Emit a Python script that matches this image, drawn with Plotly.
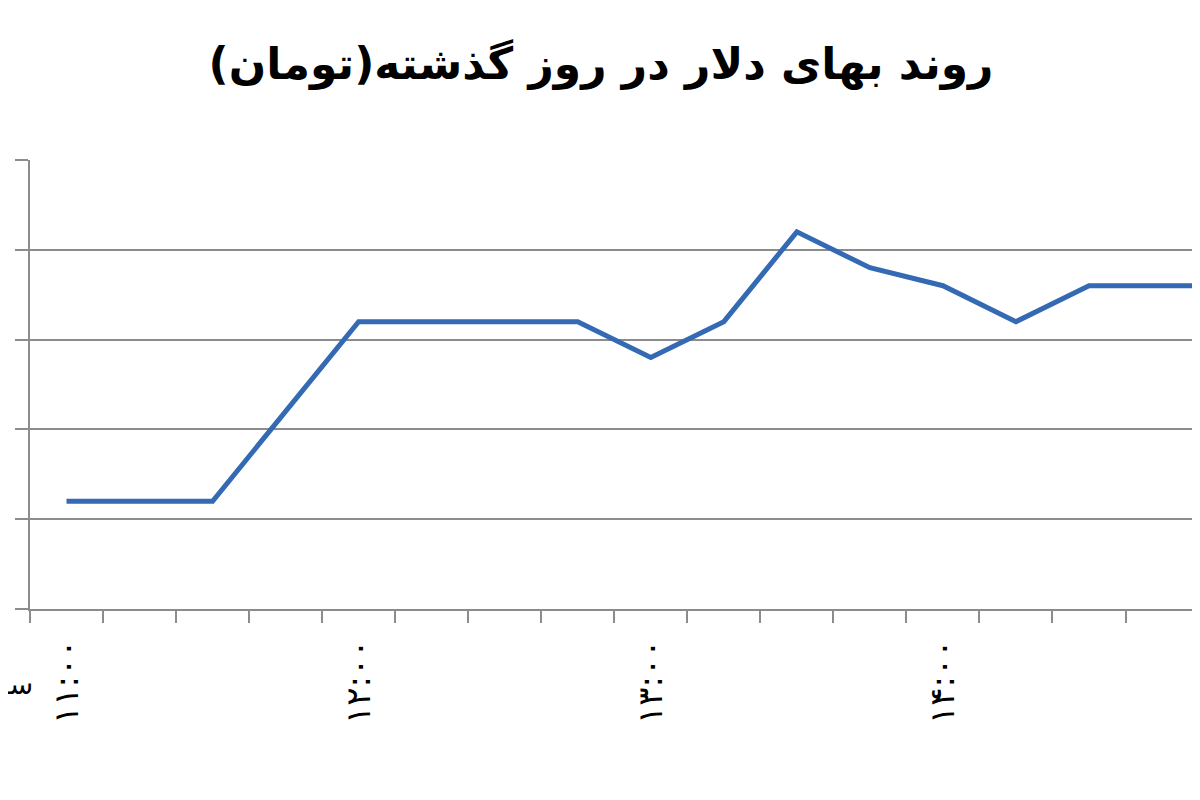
import plotly.graph_objects as go

# ساعت‌ها (هر ۱۵ دقیقه) و قیمت دلار به تومان
times = ["۱۱:۰۰", "۱۱:۱۵", "۱۱:۳۰", "۱۱:۴۵",
         "۱۲:۰۰", "۱۲:۱۵", "۱۲:۳۰", "۱۲:۴۵",
         "۱۳:۰۰", "۱۳:۱۵", "۱۳:۳۰", "۱۳:۴۵",
         "۱۴:۰۰", "۱۴:۱۵", "۱۴:۳۰", "۱۴:۴۵",
         "۱۵:۰۰"]
prices = [3760, 3760, 3760, 3810,
          3860, 3860, 3860, 3860,
          3840, 3860, 3910, 3890,
          3880, 3860, 3880, 3880,
          3880]

title_text = "روند بهای دلار در روز گذشته(تومان)"
axis_word = "ساعت"

fig = go.Figure()

fig.add_trace(go.Scatter(
    x=times, y=prices,
    mode="lines",
    line=dict(color="#3469b3", width=5),
    showlegend=False,
))

# la page html ajoute ~8px de marge au body : on compense
fig.update_layout(
    width=1200, height=800,
    paper_bgcolor="white",
    plot_bgcolor="white",
    margin=dict(l=22, r=8, t=152, b=199),
    font=dict(family="DejaVu Sans", color="black"),
    title=dict(
        text="<b>" + title_text + "</b>",
        x=593 / 1200, xanchor="center",
        y=1 - 56 / 800, yanchor="middle",
        font=dict(size=44, family="DejaVu Sans", color="black"),
    ),
    xaxis=dict(
        type="category",
        automargin=False,
        range=[-0.5, 15.52],
        tickson="boundaries",
        ticks="outside", ticklen=12, tickwidth=2, tickcolor="#8c8c8c",
        ticklabelstep=4,
        tickangle=-90,
        ticklabelstandoff=15,
        tickfont=dict(size=34, color="black"),
        showgrid=False,
        showline=True, linecolor="#8c8c8c", linewidth=2,
        zeroline=False,
    ),
    yaxis=dict(
        automargin=False,
        range=[3700, 3950],
        dtick=50,
        showticklabels=False,
        ticks="outside", ticklen=13, tickwidth=2, tickcolor="#8c8c8c",
        showgrid=True, gridcolor="#8c8c8c", gridwidth=2,
        showline=True, linecolor="#8c8c8c", linewidth=2,
        zeroline=False,
    ),
)

fig.add_annotation(
    text=axis_word,
    xref="paper", yref="paper",
    x=0, xshift=5, xanchor="right",
    y=-(684 - 609) / 449, yanchor="middle",
    showarrow=False,
    font=dict(size=28, color="black"),
)

fig.write_html("out.html")
